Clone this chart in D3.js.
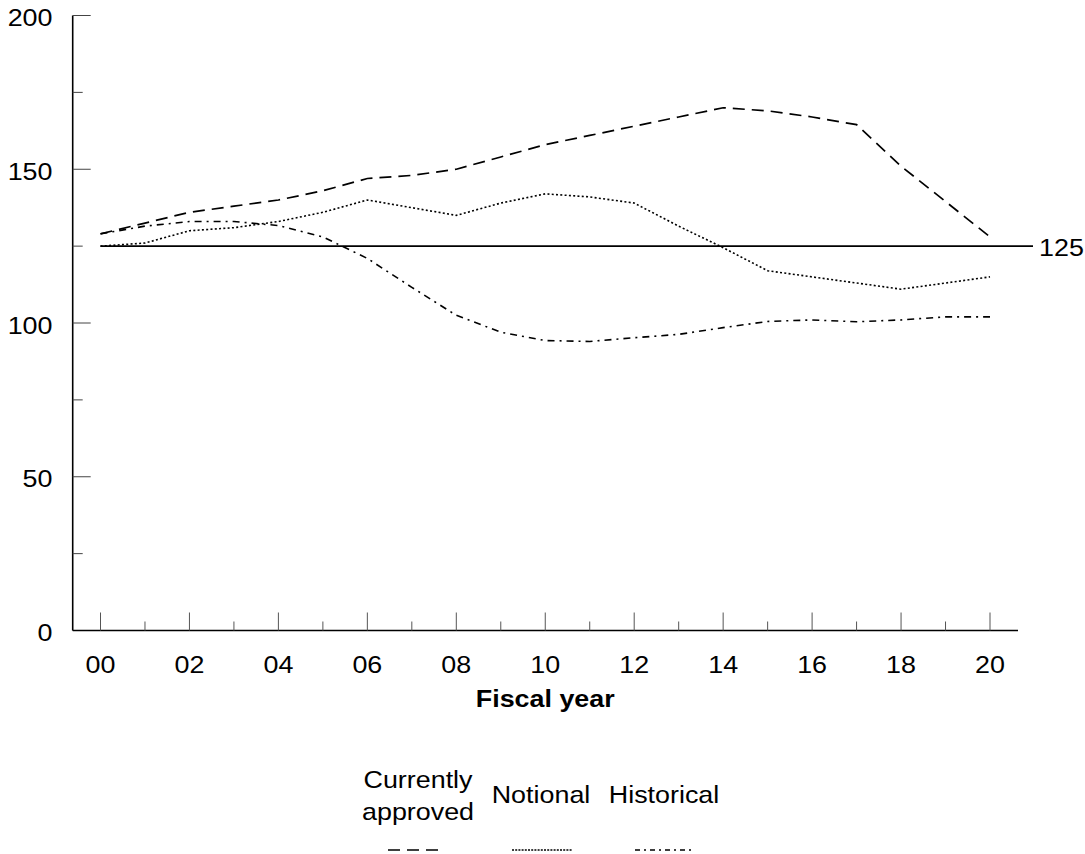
<!DOCTYPE html>
<html>
<head>
<meta charset="utf-8">
<script src="https://cdn.jsdelivr.net/npm/d3@7"></script>
<style>
  html, body { margin: 0; padding: 0; background: #fff; }
  svg { display: block; font-family: "Liberation Sans", Arial, sans-serif; }
</style>
</head>
<body>
<svg id="chart" width="1085" height="854"></svg>
<script>
const years = d3.range(0, 21);
const tickYears = [0, 2, 4, 6, 8, 10, 12, 14, 16, 18, 20];
const tickLabels = ["00", "02", "04", "06", "08", "10", "12", "14", "16", "18", "20"];
const yTicks = [0, 50, 100, 150, 200];
const yMinor = [25, 75, 125, 175];
const currentlyApproved = [129, 132.5, 136, 138, 140, 143, 147, 148, 150, 154, 158, 161, 164, 167, 170, 169, 167, 164.5, 151, 139.5, 128];
const notional = [125, 126, 130, 131, 133, 136, 140, 137.5, 135, 139, 142, 141, 139, 131.5, 124.5, 117, 115, 113, 111, 113, 115];
const historical = [129, 131.5, 133, 133, 131.7, 128, 121, 111.6, 102.5, 97, 94.3, 94, 95.2, 96.3, 98.5, 100.5, 101, 100.4, 101, 102, 102];
const refValue = 125;
const seriesNames = ["Currently approved", "Notional", "Historical"];

const svg = d3.select("#chart");
const SX = 1.12;  // horizontal stretch of text in reference
const FS = 24;

const x = d3.scaleLinear().domain([0, 20]).range([100.5, 990]);
const y = d3.scaleLinear().domain([0, 200]).range([630.5, 15.5]);
const axisX0 = 72.7, axisX1 = 1018;

function stext(g, tx, ty, str, anchor, weight) {
  return g.append("text")
    .attr("transform", `translate(${tx},${ty}) scale(${SX},1)`)
    .attr("text-anchor", anchor)
    .attr("font-size", FS)
    .attr("font-weight", weight || "normal")
    .attr("fill", "#000")
    .text(str);
}

// Y axis
const yAxisG = svg.append("g");
yAxisG.append("line").attr("x1", axisX0).attr("x2", axisX0)
  .attr("y1", y(200)).attr("y2", y(0)).attr("stroke", "#000").attr("stroke-width", 1.6);
yTicks.forEach(v => {
  yAxisG.append("line").attr("x1", axisX0).attr("x2", axisX0 + 18)
    .attr("y1", y(v)).attr("y2", y(v)).attr("stroke", "#444").attr("stroke-width", 1);
  stext(yAxisG, 52.5, y(v) + 10.5, String(v), "end");
});
yMinor.forEach(v => {
  yAxisG.append("line").attr("x1", axisX0).attr("x2", axisX0 + 10)
    .attr("y1", y(v)).attr("y2", y(v)).attr("stroke", "#444").attr("stroke-width", 1);
});

// X axis
const xAxisG = svg.append("g");
xAxisG.append("line").attr("x1", axisX0).attr("x2", axisX1)
  .attr("y1", y(0)).attr("y2", y(0)).attr("stroke", "#000").attr("stroke-width", 1.6);
years.forEach(v => {
  const major = v % 2 === 0;
  xAxisG.append("line").attr("x1", x(v)).attr("x2", x(v))
    .attr("y1", y(0)).attr("y2", y(0) - (major ? 18 : 9))
    .attr("stroke", "#555").attr("stroke-width", 1);
});
tickYears.forEach((v, i) => {
  stext(xAxisG, x(v), 673, tickLabels[i], "middle");
});
stext(svg, x(10), 706.5, "Fiscal year", "middle", "bold");

// Reference line at 125
svg.append("line").attr("x1", x(0)).attr("x2", 1033)
  .attr("y1", y(refValue)).attr("y2", y(refValue))
  .attr("stroke", "#000").attr("stroke-width", 1.8);
stext(svg, 1039, y(refValue) + 9.5, String(refValue), "start");

// Series
const styles = [
  { data: currentlyApproved, dash: "12,7", legDash: "12,7", width: 1.7 },
  { data: notional, dash: "2,2.3", legDash: "2,1.2", width: 1.6 },
  { data: historical, dash: "7,5,2,5", legDash: "5,4,2,4", width: 1.6 }
];
const line = d3.line().x((d, i) => x(years[i])).y(d => y(d));
styles.forEach(s => {
  svg.append("path").datum(s.data).attr("d", line)
    .attr("fill", "none").attr("stroke", "#000")
    .attr("stroke-width", s.width).attr("stroke-dasharray", s.dash);
});

// Legend
const leg = svg.append("g");
stext(leg, 418, 788, "Currently", "middle");
stext(leg, 418, 820, "approved", "middle");
stext(leg, 541, 803, "Notional", "middle");
stext(leg, 664, 803, "Historical", "middle");
const swatches = [[388, 443], [512, 572], [635, 692]];
swatches.forEach((sw, i) => {
  leg.append("line").attr("x1", sw[0]).attr("x2", sw[1])
    .attr("y1", 850).attr("y2", 850)
    .attr("stroke", "#000").attr("stroke-width", 1.6)
    .attr("stroke-dasharray", styles[i].legDash);
});
</script>
</body>
</html>
